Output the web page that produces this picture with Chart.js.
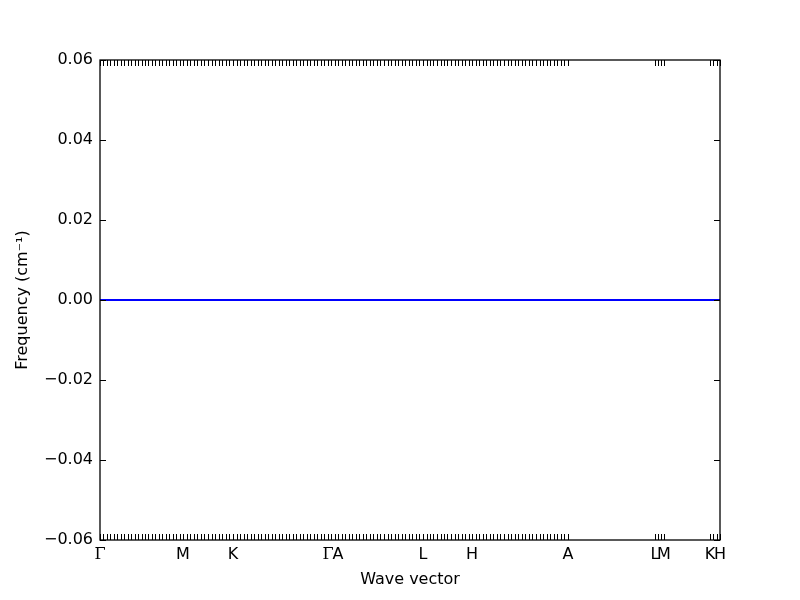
<!DOCTYPE html>
<html>
<head>
<meta charset="utf-8">
<script src="https://cdn.jsdelivr.net/npm/chart.js@4/dist/chart.umd.min.js"></script>
<style>
  html, body { margin: 0; padding: 0; background: #fff; }
  #wrap { width: 800px; height: 600px; }
</style>
</head>
<body>
<div id="wrap"><canvas id="bands"></canvas></div>
<script>
// k-path: high-symmetry labels and their positions along the wave-vector axis
const pointLabels = ['Γ', 'M', 'K', 'Γ', 'A', 'L', 'H', 'A', 'L', 'M', 'K', 'H'];
const pointPos    = [0, 0.83, 1.33, 2.28, 2.38, 3.23, 3.72, 4.68, 5.55, 5.64, 6.10, 6.20];

// sampled segments (start index, end index into pointPos) and number of k-steps in each
const segFrom  = [0, 1, 2, 3, 4, 5, 6, 8, 10];
const segTo    = [1, 2, 3, 4, 5, 6, 7, 9, 11];
const segSteps = [24, 14, 27, 3, 24, 14, 27, 3, 3];
// frequency read on each segment (flat band)
const segFreq  = [0, 0, 0, 0, 0, 0, 0, 0, 0];

const yTicks = [-0.06, -0.04, -0.02, 0.00, 0.02, 0.04, 0.06];

// k-points sampled along each segment
const samples = [];
segFrom.forEach((a, s) => {
    const x0 = pointPos[a], x1 = pointPos[segTo[s]];
    for (let i = 0; i <= segSteps[s]; i++) {
        samples.push({ x: x0 + (x1 - x0) * i / segSteps[s], y: segFreq[s] });
    }
});

const xTickList = samples.map(p => ({ value: p.x }));
pointLabels.forEach((name, i) => xTickList.push({ value: pointPos[i], name: name }));

const font = { family: 'DejaVu Sans', size: 16 };

// matplotlib style: frame plus inward ticks on all four sides
const frameTicks = {
    id: 'frameTicks',
    afterDraw(chart) {
        const { ctx, chartArea: a, scales } = chart;
        ctx.save();
        ctx.strokeStyle = '#000';
        ctx.lineWidth = 1;
        ctx.beginPath();
        scales.x.ticks.forEach(t => {
            const px = Math.round(scales.x.getPixelForValue(t.value)) + 0.5;
            ctx.moveTo(px, a.bottom); ctx.lineTo(px, a.bottom - 6);
            ctx.moveTo(px, a.top);    ctx.lineTo(px, a.top + 6);
        });
        scales.y.ticks.forEach(t => {
            const py = Math.round(scales.y.getPixelForValue(t.value)) + 0.5;
            ctx.moveTo(a.left, py);  ctx.lineTo(a.left + 6, py);
            ctx.moveTo(a.right, py); ctx.lineTo(a.right - 6, py);
        });
        ctx.stroke();
        ctx.lineWidth = 1.3;
        ctx.strokeRect(a.left, a.top, a.right - a.left, a.bottom - a.top);
        ctx.restore();
    }
};

new Chart(document.getElementById('bands'), {
    type: 'line',
    data: {
        datasets: [{
            data: samples,
            borderColor: '#0000ff',
            borderWidth: 2,
            pointRadius: 0,
            fill: false,
            tension: 0
        }]
    },
    options: {
        responsive: true,
        maintainAspectRatio: false,
        animation: false,
        layout: { padding: { left: 0, top: 60, right: 80, bottom: 0 } },
        plugins: { legend: { display: false }, tooltip: { enabled: false } },
        scales: {
            x: {
                type: 'linear',
                min: pointPos[0],
                max: pointPos[pointPos.length - 1],
                grid: { display: false, drawTicks: false },
                border: { display: false },
                afterBuildTicks: scale => { scale.ticks = xTickList.map(t => ({ ...t })); },
                afterFit: scale => { scale.height = 60; },
                ticks: {
                    autoSkip: false,
                    maxRotation: 0,
                    padding: 5,
                    color: '#000',
                    font: ctx => (ctx.tick && ctx.tick.name === 'Γ')
                        ? { family: 'DejaVu Serif', size: 16 } : font,
                    callback: (v, i, ticks) => ticks[i].name || ''
                },
                title: {
                    display: true,
                    text: 'Wave vector',
                    color: '#000',
                    font: font,
                    padding: { top: 0, bottom: 11 }
                }
            },
            y: {
                min: -0.06,
                max: 0.06,
                grid: { display: false, drawTicks: false },
                border: { display: false },
                afterBuildTicks: scale => { scale.ticks = yTicks.map(v => ({ value: v })); },
                afterFit: scale => { scale.width = 100; },
                ticks: {
                    padding: 7,
                    color: '#000',
                    font: font,
                    callback: v => (v < -1e-9 ? '\u2212' : '') + Math.abs(v).toFixed(2)
                },
                title: {
                    display: true,
                    text: 'Frequency (cm\u207B\u00B9)',
                    color: '#000',
                    font: font,
                    padding: { top: 13, bottom: 0 }
                }
            }
        }
    },
    plugins: [frameTicks]
});
</script>
</body>
</html>
